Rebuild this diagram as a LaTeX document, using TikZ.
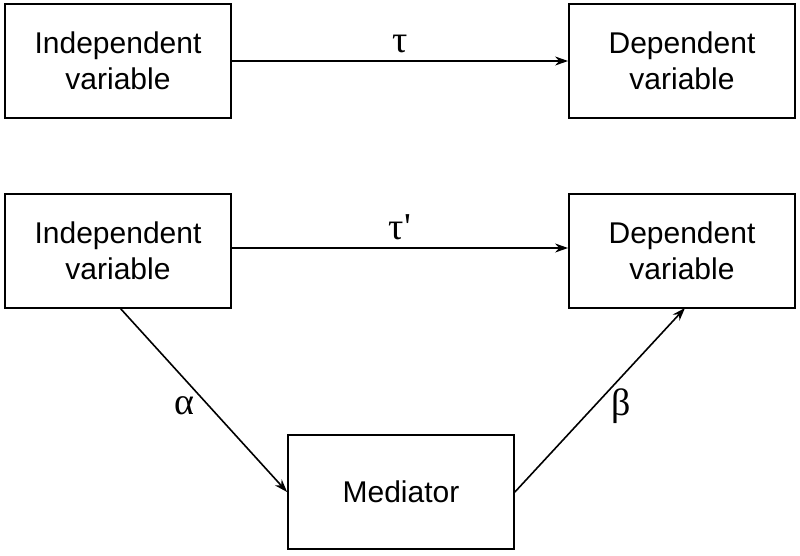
\documentclass[tikz,border=0pt]{standalone}
\usepackage{fontspec}
\setmainfont{Liberation Sans}
\newfontfamily\grk{Liberation Serif}
\usetikzlibrary{arrows.meta}
\begin{document}
\begin{tikzpicture}[x=1pt,y=-1pt,
  box/.style={draw,line width=1.8pt,minimum width=226pt,minimum height=114pt,align=center,font=\fontsize{30}{36}\selectfont,inner sep=0pt},
  arr/.style={-{Stealth[length=13pt,width=9pt]},line width=1.6pt},
  lab/.style={font=\grk\fontsize{38}{40}\selectfont}]
\useasboundingbox (0,0) rectangle (800,555);
\node[box] (iv1) at (118,61) {Independent\\variable};
\node[box] (dv1) at (682,61) {Dependent\\variable};
\node[box] (iv2) at (118,251) {Independent\\variable};
\node[box] (dv2) at (682,251) {Dependent\\variable};
\node[box] (med) at (401,492) {Mediator};
\draw[arr] (iv1) -- node[lab,above=4pt] {τ} (dv1);
\draw[arr] (iv2.east |- 0,248) -- node[lab,above=4pt] {τ'} (dv2.west |- 0,248);
\coordinate (a0) at (120,308);
\coordinate (b1) at (685,308);
\draw[arr] (a0) -- (med.west);
\draw[arr] (med.east) -- (b1);
\node[lab] (al) at (184,406) {α};
\node[lab] (be) at (621,406) {β};
\end{tikzpicture}
\end{document}
